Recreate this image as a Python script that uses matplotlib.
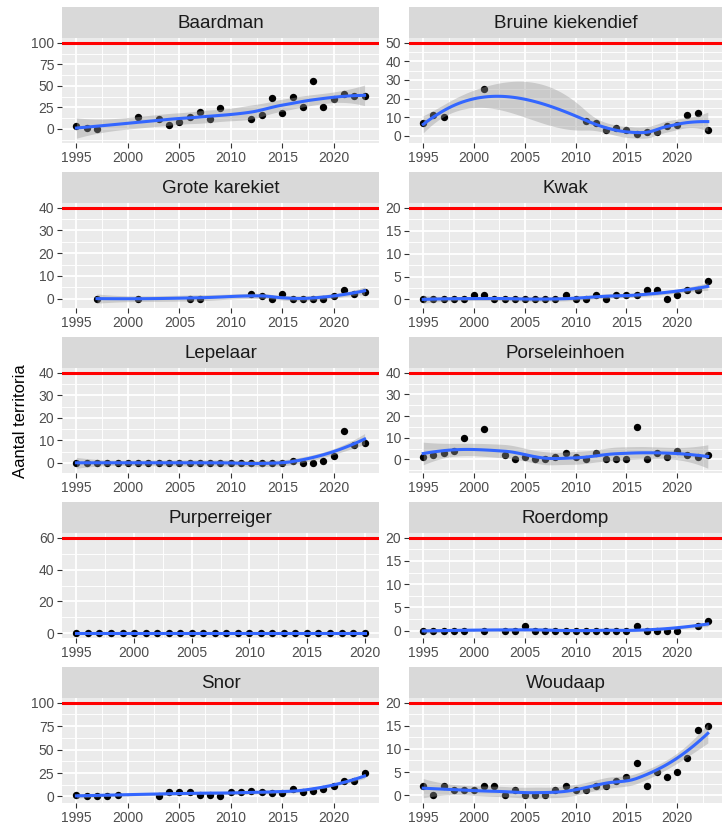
import numpy as np
import matplotlib
matplotlib.use("Agg")
import matplotlib.pyplot as plt
from matplotlib.ticker import MultipleLocator

plt.rcParams['font.family'] = ['Liberation Sans', 'DejaVu Sans']

# ---- data: territory counts per species ----
SPECIES = ["Baardman", "Bruine kiekendief", "Grote karekiet", "Kwak", "Lepelaar",
           "Porseleinhoen", "Purperreiger", "Roerdomp", "Snor", "Woudaap"]
NORMS = [100, 50, 40, 20, 40, 40, 60, 20, 100, 20]
Y_STEPS = [25, 10, 10, 5, 10, 10, 20, 5, 25, 5]

baardman_years = [1995, 1996, 1997, 2001, 2003, 2004, 2005, 2006, 2007, 2008, 2009,
                  2012, 2013, 2014, 2015, 2016, 2017, 2018, 2019, 2020, 2021, 2022, 2023]
baardman_counts = [3, 1, 0, 14, 11, 4, 8, 14, 20, 12, 24,
                   12, 16, 36, 19, 37, 25, 56, 25, 35, 40, 38, 38]

bruine_years = [1995, 1996, 1997, 2001, 2011, 2012, 2013, 2014, 2015, 2016, 2017,
                2018, 2019, 2020, 2021, 2022, 2023]
bruine_counts = [7, 11, 10, 25, 8, 7, 3, 4, 3, 1, 2, 2, 5, 6, 11, 12, 3]

karekiet_years = [1997, 2001, 2006, 2007, 2012, 2013, 2014, 2015, 2016, 2017, 2018,
                  2019, 2020, 2021, 2022, 2023]
karekiet_counts = [0, 0, 0, 0, 2, 1, 0, 2, 0, 0, 0, 0, 1, 4, 2, 3]

kwak_years = list(range(1995, 2024))
kwak_counts = [0, 0, 0, 0, 0, 1, 1, 0, 0, 0, 0, 0, 0, 0, 1, 0, 0, 1, 0, 1,
               1, 1, 2, 2, 0, 1, 2, 2, 4]

lepelaar_years = list(range(1995, 2024))
lepelaar_counts = [0] * 21 + [1, 0, 0, 1, 3, 14, 8, 9]

porselein_years = [1995, 1996, 1997, 1998, 1999, 2001, 2003, 2004, 2005, 2006, 2007,
                   2008, 2009, 2010, 2011, 2012, 2013, 2014, 2015, 2016, 2017, 2018,
                   2019, 2020, 2021, 2022, 2023]
porselein_counts = [1, 2, 3, 4, 10, 14, 2, 0, 1, 0, 0,
                    1, 3, 1, 0, 3, 0, 0, 0, 15, 0, 3,
                    1, 4, 2, 1, 2]

purper_years = list(range(1995, 2021))
purper_counts = [0] * 26

roerdomp_years = [1995, 1996, 1997, 1998, 1999, 2001, 2003, 2004, 2005, 2006, 2007,
                  2008, 2009, 2010, 2011, 2012, 2013, 2014, 2015, 2016, 2017, 2018,
                  2019, 2020, 2022, 2023]
roerdomp_counts = [0, 0, 0, 0, 0, 0, 0, 0, 1, 0, 0,
                   0, 0, 0, 0, 0, 0, 0, 0, 1, 0, 0,
                   0, 0, 1, 2]

snor_years = [1995, 1996, 1997, 1998, 1999, 2003, 2004, 2005, 2006, 2007, 2008,
              2009, 2010, 2011, 2012, 2013, 2014, 2015, 2016, 2017, 2018, 2019,
              2020, 2021, 2022, 2023]
snor_counts = [2, 1, 0, 0, 2, 1, 5, 5, 5, 2, 2,
               1, 5, 5, 6, 5, 4, 4, 8, 5, 6, 8,
               11, 16, 16, 25]

woudaap_years = list(range(1995, 2024))
woudaap_counts = [2, 0, 2, 1, 1, 1, 2, 2, 0, 1, 0, 0, 0, 1, 2, 1, 1, 2, 2, 3,
                  4, 7, 2, 5, 4, 5, 8, 14, 15]

YEARS = [baardman_years, bruine_years, karekiet_years, kwak_years, lepelaar_years,
         porselein_years, purper_years, roerdomp_years, snor_years, woudaap_years]
COUNTS = [baardman_counts, bruine_counts, karekiet_counts, kwak_counts, lepelaar_counts,
          porselein_counts, purper_counts, roerdomp_counts, snor_counts, woudaap_counts]
FIRST_YEAR = 1995
SPAN = 0.75


def local_rows(x, x0, q):
    # local quadratic fit at x0 with tricube weights -> rows for value and slope
    d = np.abs(x - x0)
    h = np.sort(d)[q - 1] * 1.0001
    w = np.clip(1 - (d / h) ** 3, 0, None) ** 3
    A = np.vstack([np.ones(len(x)), x - x0, (x - x0) ** 2]).T
    AW = A.T * w
    M = np.linalg.pinv(AW @ A) @ AW
    return M[0], M[1]


def kd_vertices(x, fc):
    # 1-d version of the loess kd-tree: split cells at the median point until <= fc points
    xs = np.sort(x)
    mu = 0.005 * (xs[-1] - xs[0])
    verts = [xs[0] - mu, xs[-1] + mu]

    def split(lo, hi, vlo, vhi):
        if hi - lo + 1 <= fc:
            return
        m = (lo + hi + 2) // 2 - 1
        v = xs[m]
        if v == vlo or v == vhi:
            return
        verts.append(v)
        split(lo, m, vlo, v)
        split(m + 1, hi, v, vhi)

    split(0, len(xs) - 1, verts[0], verts[1])
    return np.array(sorted(verts))


def loess_operator(x, pts):
    # loess with surface="interpolate": cubic Hermite between kd-tree vertices
    n = len(x)
    q = int(np.floor(n * SPAN))
    fc = int(np.floor(n * SPAN * 0.2))
    verts = kd_vertices(x, fc)
    vals, slopes = [], []
    for v in verts:
        r0, r1 = local_rows(x, v, q)
        vals.append(r0)
        slopes.append(r1)
    L = np.zeros((len(pts), n))
    for k, p in enumerate(pts):
        j = np.clip(np.searchsorted(verts, p) - 1, 0, len(verts) - 2)
        v0, v1 = verts[j], verts[j + 1]
        hh = v1 - v0
        t = (p - v0) / hh
        h00 = 2 * t ** 3 - 3 * t ** 2 + 1
        h10 = t ** 3 - 2 * t ** 2 + t
        h01 = -2 * t ** 3 + 3 * t ** 2
        h11 = t ** 3 - t ** 2
        L[k] = h00 * vals[j] + h10 * hh * slopes[j] + h01 * vals[j + 1] + h11 * hh * slopes[j + 1]
    return L


def t_quantile(df, z=1.959964):
    return z + (z ** 3 + z) / (4 * df) + (5 * z ** 5 + 16 * z ** 3 + 3 * z) / (96 * df ** 2)


def smooth(years, counts):
    x = np.asarray(years, float)
    y = np.asarray(counts, float)
    xs = np.linspace(x.min(), x.max(), 80)
    Lg = loess_operator(x, xs)
    Lx = loess_operator(x, x)
    fit = Lg @ y
    R = np.eye(len(x)) - Lx
    RR = R.T @ R
    d1 = np.trace(RR)
    d2 = np.trace(RR @ RR)
    res = y - Lx @ y
    sigma = np.sqrt(np.sum(res ** 2) / d1)
    se = sigma * np.sqrt(np.sum(Lg ** 2, axis=1))
    tq = t_quantile(d1 ** 2 / d2) if d2 > 0 else 1.96
    return xs, fit, fit - tq * se, fit + tq * se


W, H = 723, 825
fig = plt.figure(figsize=(W / 100, H / 100), dpi=100)

col_x = [(62, 379), (409, 722)]


def frac(x0, y0, x1, y1):
    return [x0 / W, 1 - y1 / H, (x1 - x0) / W, (y1 - y0) / H]


for i, name in enumerate(SPECIES):
    row, col = divmod(i, 2)
    xl, xr = col_x[col]
    strip_top = 7 + 165 * row
    top = 38 + 165 * row
    bottom = 143 + 165 * row

    sax = fig.add_axes(frac(xl, strip_top, xr, top))
    sax.set_facecolor('#D9D9D9')
    sax.set_xticks([])
    sax.set_yticks([])
    for s in sax.spines.values():
        s.set_visible(False)
    sax.text(0.5, 0.47, name, ha='center', va='center', fontsize=13.5,
             color='#1A1A1A', transform=sax.transAxes)

    ax = fig.add_axes(frac(xl, top, xr, bottom))
    ax.set_facecolor('#EBEBEB')
    for s in ax.spines.values():
        s.set_visible(False)

    years = YEARS[i]
    counts = COUNTS[i]
    xs, fit, lo, hi = smooth(years, counts)

    ax.scatter(years, counts, s=28, color='black', zorder=3, linewidths=0)
    ax.fill_between(xs, lo, hi, color='#999999', alpha=0.4, linewidth=0, zorder=4)
    ax.plot(xs, fit, color='#3366FF', lw=2.2, zorder=5)
    ax.axhline(NORMS[i], color='#FF0000', lw=2.2, zorder=6)

    x0, x1 = min(FIRST_YEAR, min(years)), max(years)
    pad = 0.05 * (x1 - x0)
    ax.set_xlim(x0 - pad, x1 + pad)
    ymin = min(min(counts), lo.min(), NORMS[i])
    ymax = max(max(counts), hi.max(), NORMS[i])
    ypad = 0.05 * (ymax - ymin)
    ax.set_ylim(ymin - ypad, ymax + ypad)

    ax.xaxis.set_major_locator(MultipleLocator(5))
    ax.xaxis.set_minor_locator(MultipleLocator(2.5))
    ax.yaxis.set_major_locator(MultipleLocator(Y_STEPS[i]))
    ax.yaxis.set_minor_locator(MultipleLocator(Y_STEPS[i] / 2))
    ax.grid(which='major', color='white', lw=1.3, zorder=0)
    ax.grid(which='minor', color='white', lw=0.65, zorder=0)
    ax.set_axisbelow(True)
    ax.tick_params(which='major', length=3.5, width=0.8, color='#333333',
                   labelsize=10, labelcolor='#4D4D4D', pad=2)
    ax.tick_params(which='minor', length=0)
    ax.set_xticks([t for t in range(1995, 2025, 5) if t <= x1 + pad])

fig.text(21 / W, 1 - 421 / H, "Aantal territoria", rotation=90, ha='center',
         va='center', fontsize=12, color='black')

fig.savefig("out.png", dpi=100)
